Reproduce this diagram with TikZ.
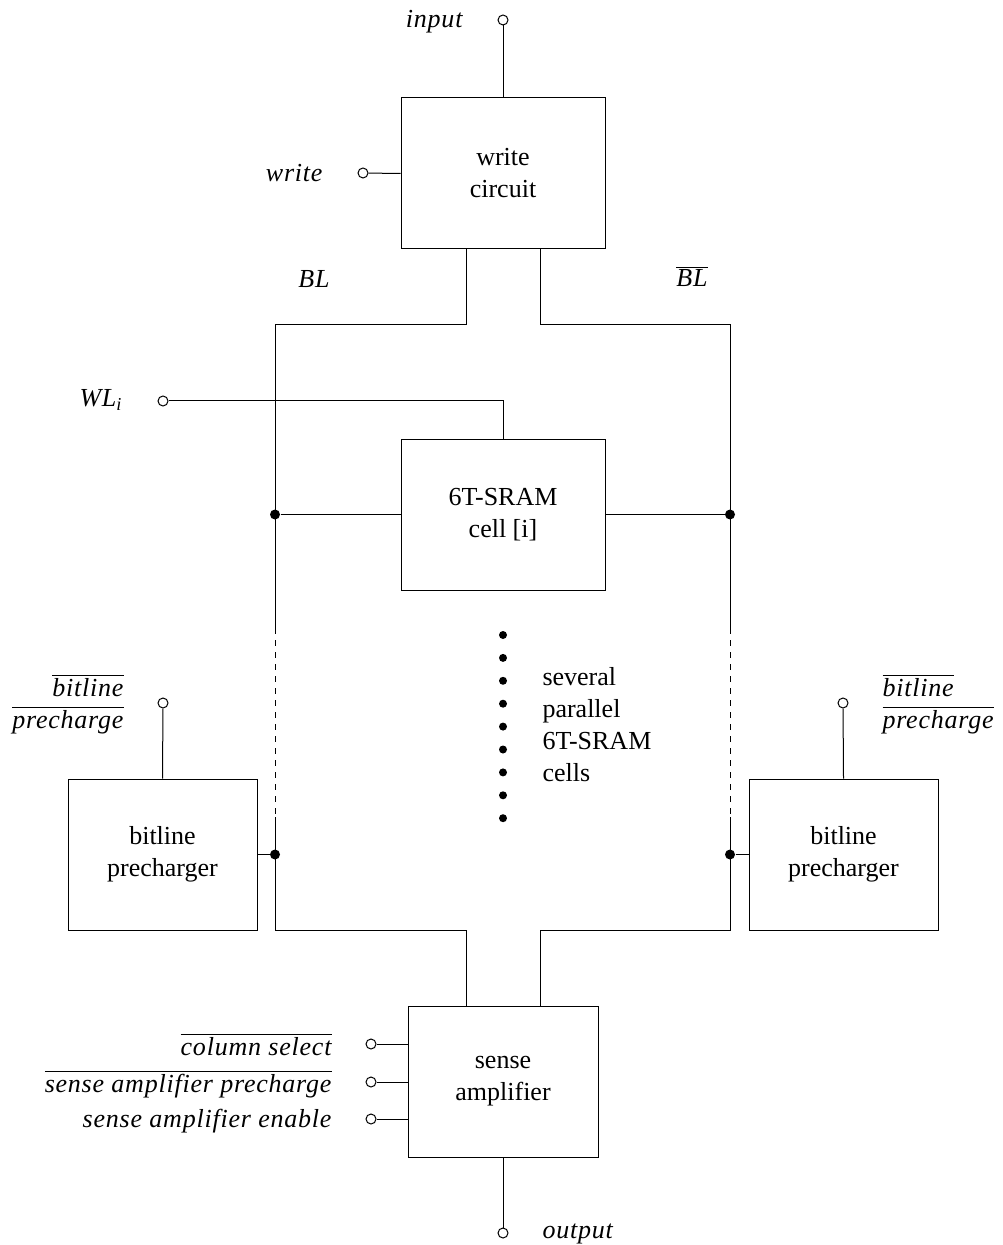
\documentclass[tikz,border=0pt]{standalone}
\usepackage{fontspec}
\setmainfont{Liberation Serif}

\begin{document}
\begin{tikzpicture}[
    x=0.5pt, y=-0.5pt,
    line width=0.5pt,
    every node/.style={font=\fontsize{13}{16}\selectfont},
    block/.style={draw, minimum width=#1, minimum height=75.5pt,
                  align=center, inner sep=0pt},
    term/.style={draw, circle, fill=white, inner sep=0pt, minimum size=5pt},
    junction/.style={fill, circle, inner sep=0pt, minimum size=5pt},
    sig/.style={inner sep=0pt,
                font=\fontsize{13}{16}\selectfont\itshape\addfontfeatures{LetterSpace=3}}
  ]
  \useasboundingbox (0,0) rectangle (1002,1245);

  % blocks
  \node[block=102pt] (wr) at (503,173.5) {write\\circuit};
  \node[block=102pt] (cell) at (503,514.5) {6T-SRAM\\cell [i]};
  \node[block=94.5pt] (pl) at (162.5,854.5) {bitline\\precharger};
  \node[block=94.5pt] (pr) at (843.5,854.5) {bitline\\precharger};
  \node[block=95pt] (sa) at (503,1081.5) {sense\\amplifier};

  % terminals
  \node[term] (in) at (503,20) {};
  \node[term] (we) at (363,173) {};
  \node[term] (wl) at (163,401) {};
  \node[term] (tpl) at (163,703) {};
  \node[term] (tpr) at (843,703) {};
  \node[term] (cs) at (371,1044) {};
  \node[term] (sap) at (371,1082) {};
  \node[term] (sae) at (371,1119) {};
  \node[term] (out) at (503,1233) {};

  % labels
  \node[sig, anchor=base east] (lin) at (463,28) {input};
  \node[sig, anchor=base east] (lwe) at (323,182) {write};
  \node[sig, anchor=base] (lbl) at (314,288) {BL};
  \node[sig, anchor=base] (lblb) at (692,287) {$\overline{\mbox{\itshape BL}}$};
  \node[sig, anchor=base east] (lwl) at (123,407) {WL\textsubscript{\itshape i}};
  \node[sig, anchor=base east] (lpl1) at (124,696) {$\overline{\mbox{\itshape bitline}}$};
  \node[sig, anchor=base east] (lpl2) at (124,728) {$\overline{\mbox{\itshape precharge}}$};
  \node[sig, anchor=base west] (lpr1) at (882,696) {$\overline{\mbox{\itshape bitline}}$};
  \node[sig, anchor=base west] (lpr2) at (882,728) {$\overline{\mbox{\itshape precharge}}$};
  \node[sig, anchor=base east] (lcs) at (332,1055) {$\overline{\mbox{\itshape column select}}$};
  \node[sig, anchor=base east] (lsap) at (332,1092) {$\overline{\mbox{\itshape sense amplifier precharge}}$};
  \node[sig, anchor=base east] (lsae) at (332,1127) {sense amplifier enable};
  \node[sig, anchor=base west] (lout) at (542,1238) {output};
  \node[anchor=west, align=left, inner sep=0pt] (note) at (542,725)
    {several\\parallel\\6T-SRAM\\cells};

  % bitline corners
  \coordinate (blA) at (275,325);
  \coordinate (blB) at (275,628);
  \coordinate (blC) at (275,817);
  \coordinate (blD) at (275,930);
  \coordinate (brA) at (730,325);
  \coordinate (brB) at (730,628);
  \coordinate (brC) at (730,817);
  \coordinate (brD) at (730,930);
  \node[junction] (jl1) at (275,514.5) {};
  \node[junction] (jr1) at (730,514.5) {};
  \node[junction] (jl2) at (275,854.5) {};
  \node[junction] (jr2) at (730,854.5) {};

  % wires
  \draw (in) -- (wr.north);
  \draw (we) -- (wr.west);
  \draw (wl) -| (cell.north);
  \draw ([xshift=-18.5pt]wr.south) |- (blA) -- (blB);
  \draw ([xshift=18.5pt]wr.south) |- (brA) -- (brB);
  \draw[dashed] (blB) -- (blC);
  \draw[dashed] (brB) -- (brC);
  \draw (blC) -- (blD) -| ([xshift=-18.5pt]sa.north);
  \draw (brC) -- (brD) -| ([xshift=18.5pt]sa.north);
  \draw (jl1) -- (cell.west);
  \draw (jr1) -- (cell.east);
  \draw (jl2) -- (pl.east);
  \draw (jr2) -- (pr.west);
  \draw (tpl) -- (pl.north);
  \draw (tpr) -- (pr.north);
  \foreach \t in {cs,sap,sae}
    \draw (\t) -- (\t -| sa.west);
  \draw (sa.south) -- (out);

  % dots between cells
  \foreach \i in {0,...,8}
    \fill (503,635+22.9*\i) circle (2pt);
\end{tikzpicture}
\end{document}
